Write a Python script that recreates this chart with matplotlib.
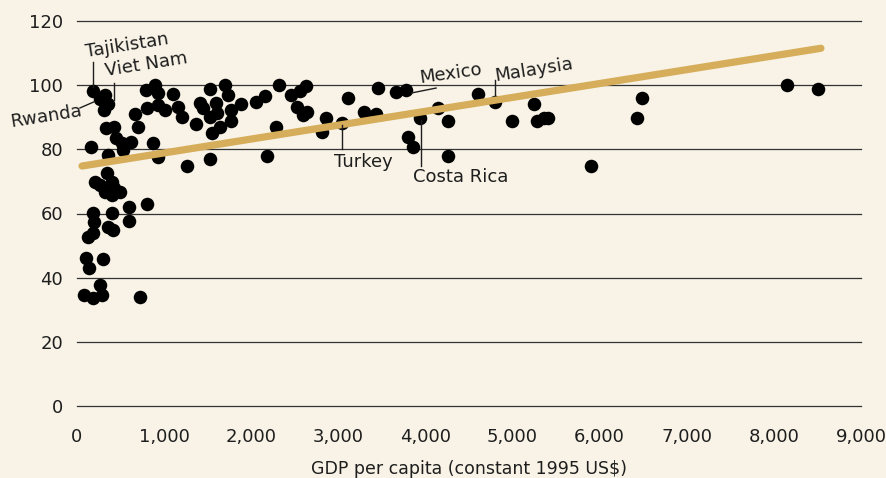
import matplotlib
matplotlib.use("Agg")
import matplotlib.pyplot as plt

# GDP per capita (constant 1995 US$) and indicator value
gdp = [184, 321, 264, 356, 310, 792, 895, 930, 804, 930, 1010, 1102, 1159, 1205,
       1366, 1412, 1447, 1527, 1596, 1527, 1607, 1550, 1642, 1699, 1734, 1768, 1768,
       1883, 2055, 2158, 2285, 2319, 2181, 2462, 2560, 2629, 2522, 2637, 2598, 2859,
       2809, 3115, 3039, 3295, 3433, 3456, 3662, 3777, 3941, 4148, 4263, 3803, 3854,
       4263, 4603, 4799, 4990, 5250, 5284, 5361, 5411, 5901, 6490, 6432, 8147, 8510,
       166, 333, 425, 704, 666, 450, 520, 532, 620, 359, 869, 930,
       341, 207, 264, 398, 321, 398, 494, 425, 180, 195, 398, 600, 600, 807,
       130, 187, 359, 417, 103, 302, 141, 80, 264, 187, 284, 723, 1266, 1527]
value = [98.2, 96.8, 95.7, 94.1, 92.3, 98.5, 100.1, 97.6, 92.9, 93.8, 92.3, 97.2, 93.2, 90.1,
         87.9, 94.4, 92.9, 98.8, 94.4, 90.1, 91.2, 85.1, 87.0, 100.1, 96.9, 92.3, 88.8,
         94.1, 94.8, 96.6, 87.0, 100.1, 77.9, 96.9, 98.2, 99.8, 93.3, 91.7, 90.7, 89.9,
         85.5, 95.9, 88.1, 91.7, 90.9, 99.0, 98.0, 98.6, 89.9, 92.8, 88.8, 83.9, 80.8,
         77.9, 97.2, 94.9, 88.9, 94.0, 88.8, 89.7, 89.7, 74.8, 95.9, 89.9, 100.1, 98.8,
         80.7, 86.7, 86.9, 87.0, 90.9, 83.4, 82.0, 79.8, 82.3, 78.2, 81.9, 77.7,
         72.5, 69.9, 68.9, 69.9, 66.8, 65.8, 66.8, 67.9, 60.1, 57.4, 60.1, 61.9, 57.8, 63.0,
         52.8, 53.8, 55.9, 54.9, 46.0, 45.7, 42.9, 34.6, 37.7, 33.6, 34.6, 33.9, 74.9, 77.0]

# Trend line end points
trend_x = [58, 8540]
trend_y = [74.8, 111.5]

x_ticks = [0, 1000, 2000, 3000, 4000, 5000, 6000, 7000, 8000, 9000]
x_tick_labels = ["0", "1,000", "2,000", "3,000", "4,000", "5,000", "6,000", "7,000", "8,000", "9,000"]
y_ticks = [0, 20, 40, 60, 80, 100, 120]
x_label = "GDP per capita (constant 1995 US$)"

BG = "#F8F3E6"
GOLD = "#D6AD5A"
TXT = "#1e1e1e"
FONT = "DejaVu Sans"

fig = plt.figure(figsize=(8.87, 4.78), dpi=100, facecolor=BG)
W, H = 887, 478
ax = fig.add_axes([77 / W, 1 - 406 / H, (861 - 77) / W, (406 - 21) / H])
ax.set_facecolor(BG)
ax.set_xlim(0, 9000)
ax.set_ylim(0, 120)
for s in ax.spines.values():
    s.set_visible(False)

ax.set_yticks(y_ticks)
ax.set_yticklabels([str(v) for v in y_ticks], fontfamily=FONT, fontsize=13, color=TXT)
ax.set_xticks(x_ticks)
ax.set_xticklabels(x_tick_labels, fontfamily=FONT, fontsize=13, color=TXT)
ax.tick_params(axis="y", length=0, pad=10)
ax.tick_params(axis="x", length=0, pad=16)
ax.yaxis.grid(True, color="#333333", linewidth=0.9)
ax.xaxis.grid(False)
for gl in ax.get_ygridlines():
    gl.set_clip_on(False)
ax.set_axisbelow(True)

ax.scatter(gdp, value, s=95, color="black", zorder=3, clip_on=False, linewidths=0)
ax.plot(trend_x, trend_y, color=GOLD, linewidth=5.2, solid_capstyle="round", zorder=4)

ax.set_xlabel(x_label, fontfamily=FONT, fontsize=12.5, color=TXT, labelpad=10)

# Country annotations
lab_kw = dict(fontfamily=FONT, fontsize=13, color=TXT, ha="center", va="center", zorder=5)
line_kw = dict(color=TXT, linewidth=1.0, zorder=5, clip_on=False)

ax.text(574, 112.5, "Tajikistan", rotation=9, **lab_kw)
ax.plot([184, 184], [107.2, 99.4], **line_kw)
ax.text(799, 106.5, "Viet Nam", rotation=9, **lab_kw)
ax.plot([428, 428], [100.7, 95.4], **line_kw)
ax.text(-356, 90.2, "Rwanda", rotation=9, clip_on=False, **lab_kw)
ax.plot([34, 195], [92.9, 94.8], **line_kw)
ax.text(4290, 103.5, "Mexico", rotation=8, **lab_kw)
ax.plot([3846, 4122], [97.6, 99.1], **line_kw)
ax.text(5247, 104.6, "Malaysia", rotation=9, **lab_kw)
ax.plot([4799, 4799], [101.6, 96.9], **line_kw)
ax.text(3292, 75.9, "Turkey", **lab_kw)
ax.plot([3039, 3039], [87.6, 80.1], **line_kw)
ax.text(4409, 71.3, "Costa Rica", **lab_kw)
ax.plot([3946, 3946], [89.2, 74.8], **line_kw)

fig.savefig("out.png", dpi=100, facecolor=BG)
